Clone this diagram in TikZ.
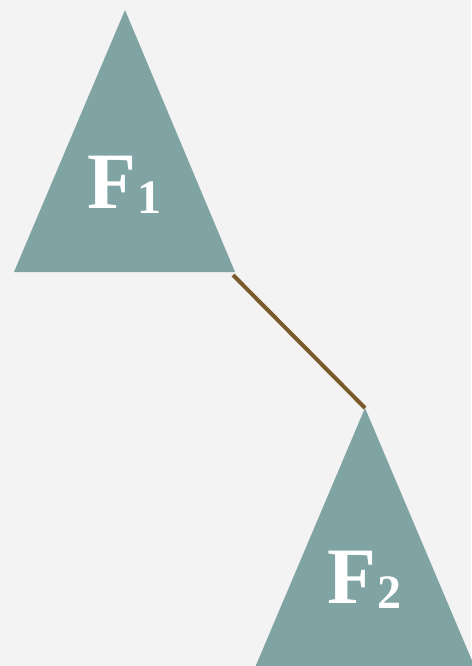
\documentclass[tikz,border=0pt]{standalone}
\usepackage{fontspec}
\setmainfont{Liberation Serif}
\definecolor{bgc}{HTML}{F3F3F3}
\definecolor{tri}{HTML}{80A3A3}
\definecolor{rope}{HTML}{7A5A2A}
\tikzset{
  tribox/.style={fill=tri, draw=none},
  lbl/.style={text=white, inner sep=0pt, anchor=base west, font=\bfseries\fontsize{80}{80}\selectfont},
  link/.style={draw=rope, line width=4pt},
}
\newcommand{\flabel}[1]{F\kern1pt{\fontsize{48}{48}\selectfont\raisebox{-5pt}{#1}}}
\begin{document}
\begin{tikzpicture}[x=1pt,y=-1pt]
\fill[bgc] (0,0) rectangle (471,666);
\useasboundingbox (0,0) rectangle (471,666);
% triangle 1
\coordinate (t1apex) at (125,10);
\coordinate (t1left) at (14,272);
\coordinate (t1right) at (235,272);
\path[tribox] (t1apex) -- (t1left) -- (t1right) -- cycle;
% triangle 2
\coordinate (t2apex) at (365,408);
\coordinate (t2left) at (254,670);
\coordinate (t2right) at (476,670);
\path[tribox] (t2apex) -- (t2left) -- (t2right) -- cycle;
% connector
\draw[link] ([xshift=-2pt,yshift=-3pt]t1right) -- (t2apex);
% labels
\node[lbl] (f1) at (87,208) {\flabel{1}};
\node[lbl] (f2) at (327,603) {\flabel{2}};
\end{tikzpicture}
\end{document}
